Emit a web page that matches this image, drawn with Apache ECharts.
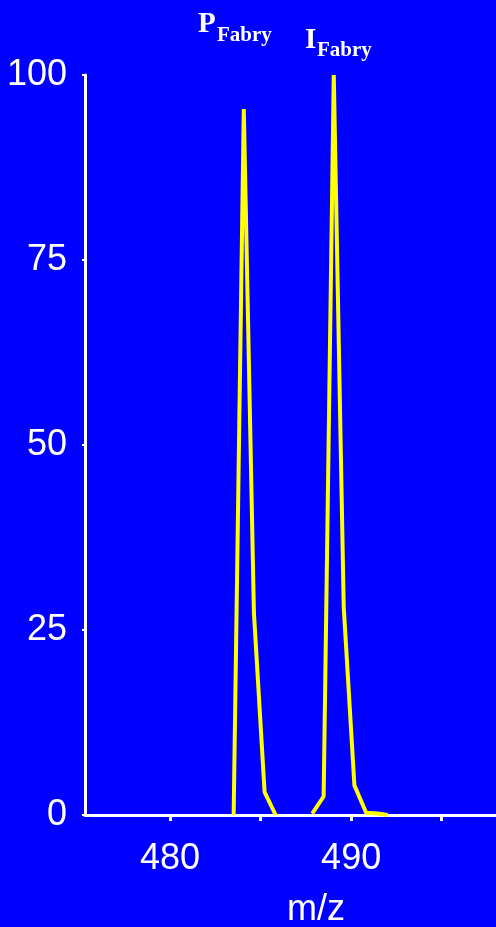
<!DOCTYPE html>
<html><head><meta charset="utf-8">
<script src="https://cdn.jsdelivr.net/npm/echarts@6/dist/echarts.min.js"></script>
<style>html,body{margin:0;padding:0;background:#0000FF;}#c{width:496px;height:927px;}</style>
</head><body><div id="c"></div>
<script>
// m/z and relative intensity (%)
const peakP_mz = [483.51, 484.07, 484.63, 485.22, 485.83];
const peakP_int = [0, 95.4, 27.3, 3.1, 0];
const peakI_mz = [487.85, 488.48, 489.04, 489.59, 490.18, 490.83, 491.47, 492.02];
const peakI_int = [0.2, 2.5, 100, 28.1, 4.0, 0.3, 0.2, 0];
const xTicks = [480, 485, 490, 495];
const xTickLabels = [480, 490];
const yTicks = [0, 25, 50, 75, 100];

const chart = echarts.init(document.getElementById('c'), null, {renderer: 'canvas'});
const white = '#FFFFFF';
chart.setOption({
  animation: false,
  backgroundColor: '#0000FF',
  grid: {left: 85, top: 75, right: 0, bottom: 112, containLabel: false, outerBoundsMode: 'none'},
  xAxis: {
    type: 'value', min: 475.3, max: 498,
    name: 'm/z', nameLocation: 'middle', nameGap: 77,
    nameTextStyle: {color: white, fontSize: 36, fontFamily: 'Liberation Sans', padding: [0, 0, 0, 51]},
    axisLine: {show: true, lineStyle: {color: white, width: 3}},
    axisTick: {show: true, length: 6, lineStyle: {color: white, width: 3}, customValues: xTicks},
    axisLabel: {color: white, fontSize: 36, fontFamily: 'Liberation Sans', margin: 26, customValues: xTickLabels},
    splitLine: {show: false}
  },
  yAxis: {
    type: 'value', min: 0, max: 100, interval: 25,
    axisLine: {show: true, lineStyle: {color: white, width: 3}},
    axisTick: {show: true, length: 3, lineStyle: {color: white, width: 2}},
    axisLabel: {color: white, fontSize: 36, fontFamily: 'Liberation Sans', margin: 18, customValues: yTicks},
    splitLine: {show: false}
  },
  series: [
    {type: 'line', data: peakP_mz.map((m, i) => [m, peakP_int[i]]), symbol: 'none', z: 5,
     lineStyle: {color: '#FFFF00', width: 4}},
    {type: 'line', data: peakI_mz.map((m, i) => [m, peakI_int[i]]), symbol: 'none', z: 5,
     lineStyle: {color: '#FFFF00', width: 4}}
  ],
  graphic: [
    {type: 'text', left: 198, top: 10, style: {text: 'P', fill: white, font: 'bold 29px "Liberation Serif"'}},
    {type: 'text', left: 217, top: 25, style: {text: 'Fabry', fill: white, font: 'bold 21px "Liberation Serif"'}},
    {type: 'text', left: 305, top: 26, style: {text: 'I', fill: white, font: 'bold 29px "Liberation Serif"'}},
    {type: 'text', left: 317, top: 40, style: {text: 'Fabry', fill: white, font: 'bold 21px "Liberation Serif"'}}
  ]
});
</script></body></html>
